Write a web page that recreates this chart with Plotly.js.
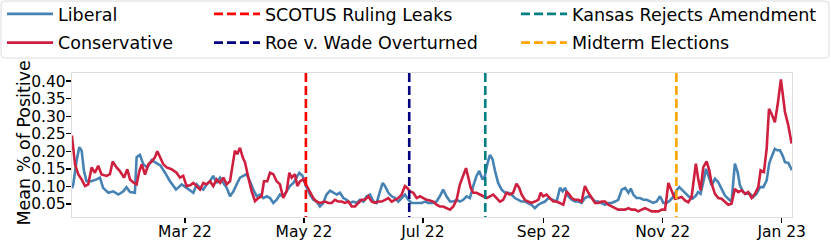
<!DOCTYPE html>
<html>
<head>
<meta charset="utf-8">
<script src="https://cdn.plot.ly/plotly-3.0.1.min.js"></script>
<style>html,body{margin:0;padding:0;background:#fff;}</style>
</head>
<body>
<div id="chart" style="width:831px;height:240px;"></div>
<script>
// x values are days since 2022-01-01
const liberalDay = [1.0,1.7,3.4,4.8,6.0,7.2,8.5,11.0,13.7,15.4,17.0,19.7,22.2,24.8,27.4,29.0,30.8,33.3,34.2,35.9,37.6,39.7,41.9,44.1,46.5,49.2,51.3,54.4,57.3,59.8,61.5,63.3,65.0,66.7,68.4,70.1,71.8,73.5,75.2,77.0,78.7,80.4,82.1,83.8,85.5,87.2,88.9,90.6,92.3,94.0,95.8,97.5,99.2,100.9,102.6,104.3,106.0,107.7,109.4,111.1,112.8,114.6,116.3,117.6,119.3,121.0,123.1,124.8,126.5,128.2,129.9,131.6,133.4,135.1,136.8,138.5,140.2,141.9,143.6,145.3,147.0,148.7,150.5,152.2,153.9,155.6,157.3,159.0,160.4,161.6,163.3,165.0,166.7,168.4,170.1,171.8,173.5,175.2,177.8,180.4,182.1,183.8,186.3,188.0,189.7,191.4,193.1,194.9,196.6,198.3,200.0,201.7,203.4,205.1,206.8,208.5,209.9,211.6,212.8,214.0,215.4,216.7,218.0,219.6,221.4,223.1,224.8,226.5,228.2,229.9,231.6,233.3,235.0,236.7,238.4,240.2,241.9,243.6,245.3,247.2,249.6,251.3,252.7,253.9,255.6,257.3,259.0,260.7,262.4,264.1,265.9,267.6,269.3,271.0,272.7,274.4,276.1,277.8,279.5,281.2,283.0,284.7,286.4,287.6,288.9,290.6,292.4,294.1,295.8,297.5,299.2,300.9,302.6,304.3,306.0,307.7,309.4,311.1,312.5,314.2,315.9,317.6,319.3,321.0,322.2,323.4,324.8,326.2,327.4,329.1,330.8,332.5,334.2,335.9,337.6,339.3,341.0,342.4,343.6,345.3,347.0,348.7,350.4,352.1,353.9,355.6,357.3,358.6,359.8,361.5,362.7,364.1,365.5,366.7,368.4,370.3];
const liberalValue = [0.095,0.106,0.173,0.212,0.202,0.144,0.115,0.115,0.120,0.125,0.096,0.082,0.086,0.077,0.086,0.098,0.084,0.082,0.183,0.190,0.163,0.154,0.175,0.168,0.159,0.135,0.115,0.091,0.106,0.096,0.090,0.082,0.106,0.096,0.091,0.106,0.115,0.130,0.110,0.125,0.110,0.096,0.072,0.086,0.106,0.125,0.130,0.135,0.115,0.091,0.072,0.077,0.067,0.072,0.067,0.053,0.062,0.077,0.072,0.086,0.101,0.110,0.125,0.139,0.130,0.101,0.077,0.062,0.057,0.043,0.053,0.077,0.088,0.082,0.077,0.082,0.067,0.062,0.053,0.057,0.053,0.062,0.057,0.072,0.077,0.057,0.053,0.086,0.110,0.101,0.082,0.072,0.067,0.057,0.067,0.077,0.062,0.053,0.053,0.053,0.057,0.053,0.053,0.057,0.072,0.091,0.072,0.057,0.057,0.062,0.057,0.062,0.072,0.067,0.101,0.130,0.144,0.120,0.130,0.163,0.190,0.178,0.144,0.110,0.091,0.082,0.082,0.077,0.067,0.062,0.057,0.057,0.053,0.048,0.038,0.048,0.053,0.057,0.067,0.062,0.057,0.096,0.086,0.096,0.072,0.062,0.057,0.057,0.053,0.067,0.072,0.067,0.057,0.057,0.053,0.048,0.053,0.053,0.057,0.062,0.091,0.096,0.082,0.094,0.077,0.067,0.067,0.062,0.062,0.057,0.053,0.057,0.072,0.053,0.053,0.060,0.070,0.089,0.098,0.089,0.079,0.070,0.065,0.074,0.084,0.079,0.112,0.150,0.131,0.103,0.122,0.112,0.093,0.074,0.065,0.056,0.165,0.141,0.103,0.084,0.079,0.079,0.070,0.079,0.098,0.098,0.117,0.165,0.184,0.207,0.203,0.203,0.188,0.169,0.167,0.146];

const conservativeDay = [1.0,2.6,4.3,6.0,7.7,9.4,11.1,12.8,14.5,16.2,18.8,20.5,21.9,23.9,25.6,27.7,29.4,30.8,32.8,34.2,35.6,36.8,38.5,40.2,41.9,43.6,44.8,46.2,47.9,49.6,52.1,54.7,56.4,58.1,59.8,61.6,63.3,65.0,66.7,68.4,70.1,71.8,73.5,75.2,77.0,78.7,80.4,82.1,83.4,84.6,85.8,87.2,88.6,89.8,91.5,93.2,94.9,96.6,98.3,99.5,101.2,102.6,104.3,106.0,107.7,109.4,111.1,112.5,113.7,115.4,116.6,118.0,119.7,121.4,123.1,124.8,126.5,128.2,130.8,132.5,134.2,135.9,137.6,139.3,141.0,142.8,144.5,146.2,147.9,149.6,151.3,153.0,154.7,156.4,158.1,159.9,161.6,163.3,165.0,166.7,168.4,170.1,171.8,173.0,174.4,176.1,177.8,179.5,181.2,182.9,184.6,186.3,188.0,189.7,191.4,193.1,194.9,196.6,198.3,200.0,201.7,203.1,204.3,205.5,206.8,208.5,210.2,211.9,213.7,215.4,217.1,218.8,220.5,222.2,223.9,225.6,227.3,229.0,230.4,231.6,233.3,235.0,236.7,238.4,240.2,241.4,242.7,244.4,246.1,247.9,249.6,251.3,253.0,253.9,254.7,256.1,257.3,259.0,260.7,262.4,264.1,265.9,267.6,269.3,271.0,272.7,274.4,276.1,277.8,279.5,281.2,283.0,284.7,286.4,288.1,289.8,291.5,293.2,294.9,296.6,298.3,300.0,301.8,303.5,305.2,306.9,309.1,310.3,312.0,313.7,315.4,317.1,318.8,320.0,321.0,322.2,323.4,324.8,326.5,327.9,329.1,330.8,332.5,334.2,335.9,337.6,339.3,341.0,342.7,344.5,346.2,347.9,349.6,351.3,353.0,354.2,355.9,357.3,358.5,359.8,361.5,362.9,364.6,365.8,366.7,368.4,370.1];
const conservativeValue = [0.245,0.163,0.134,0.120,0.101,0.106,0.154,0.139,0.159,0.134,0.130,0.135,0.171,0.154,0.144,0.125,0.149,0.120,0.110,0.106,0.144,0.163,0.134,0.163,0.171,0.183,0.200,0.183,0.163,0.154,0.149,0.139,0.125,0.130,0.101,0.103,0.110,0.101,0.091,0.110,0.106,0.115,0.101,0.120,0.110,0.125,0.106,0.115,0.168,0.202,0.192,0.210,0.183,0.168,0.125,0.086,0.058,0.067,0.072,0.115,0.115,0.139,0.135,0.115,0.106,0.067,0.086,0.139,0.125,0.135,0.101,0.115,0.120,0.101,0.082,0.067,0.057,0.053,0.057,0.053,0.053,0.062,0.057,0.057,0.053,0.057,0.043,0.043,0.053,0.062,0.062,0.072,0.057,0.053,0.057,0.057,0.062,0.067,0.057,0.062,0.067,0.077,0.101,0.096,0.086,0.082,0.067,0.072,0.067,0.062,0.060,0.057,0.048,0.043,0.043,0.038,0.034,0.043,0.062,0.106,0.135,0.152,0.125,0.096,0.082,0.082,0.077,0.072,0.067,0.072,0.077,0.067,0.057,0.062,0.082,0.077,0.082,0.108,0.096,0.077,0.062,0.057,0.053,0.057,0.062,0.082,0.072,0.077,0.067,0.057,0.057,0.053,0.048,0.067,0.086,0.077,0.067,0.062,0.062,0.057,0.101,0.082,0.067,0.053,0.053,0.057,0.057,0.048,0.043,0.038,0.034,0.034,0.034,0.038,0.034,0.034,0.029,0.034,0.038,0.034,0.029,0.029,0.029,0.034,0.034,0.110,0.084,0.065,0.067,0.070,0.060,0.055,0.070,0.122,0.165,0.122,0.089,0.155,0.171,0.146,0.108,0.079,0.067,0.065,0.055,0.048,0.051,0.093,0.084,0.089,0.079,0.084,0.067,0.079,0.098,0.146,0.141,0.207,0.321,0.307,0.283,0.331,0.405,0.350,0.312,0.274,0.222];

const eventNames = ['SCOTUS Ruling Leaks','Roe v. Wade Overturned','Kansas Rejects Amendment','Midterm Elections'];
const eventDates = ['2022-05-02','2022-06-24','2022-08-02','2022-11-08'];
const eventColors = ['#ff0000','#000080','#008080','#ffa500'];

const tickDates = ['2022-03-01','2022-05-01','2022-07-01','2022-09-01','2022-11-01','2023-01-01'];
const tickLabels = ['Mar 22','May 22','Jul 22','Sep 22','Nov 22','Jan 23'];
const yTicks = [0.05,0.10,0.15,0.20,0.25,0.30,0.35,0.40];
const yTickLabels = ['0.05','0.10','0.15','0.20','0.25','0.30','0.35','0.40'];
const yTitle = 'Mean % of Positive';

const START = Date.UTC(2022,0,1);
function dayToDate(d){
  return new Date(START + d*86400000).toISOString().slice(0,19).replace('T',' ');
}

const FONT = 'DejaVu Sans, sans-serif';
const blue = '#4682b4', red = '#cf1f3f';
const dash = '9px,4px';

const traces = [
  {type:'scatter', mode:'lines', name:'Liberal', x: liberalDay.map(dayToDate), y: liberalValue,
   line:{color:blue, width:2.6}, legend:'legend', legendgroup:'a'},
  {type:'scatter', mode:'lines', name:'Conservative', x: conservativeDay.map(dayToDate), y: conservativeValue,
   line:{color:red, width:2.6}, legend:'legend', legendgroup:'b'}
];
const legendIds = ['legend2','legend2','legend3','legend3'];
eventNames.forEach((n,i)=>{
  traces.push({type:'scatter', mode:'lines', name:n, x:[null], y:[null],
    line:{color:eventColors[i], width:2.6, dash:dash}, legend:legendIds[i], legendgroup:'e'+i});
});

const shapes = eventDates.map((d,i)=>({
  type:'line', xref:'x', yref:'paper', x0:d, x1:d, y0:1, y1:0,
  line:{color:eventColors[i], width:2.6, dash:dash}, layer:'above'
}));

// legend frame (rounded box), paper coords
const L=72, W=720, T=73, H=144;
const px = v => (v-L)/W, py = v => (T+H-v)/H;
const bx0=1, bx1=829, by0=1, by1=58, r=4;
shapes.push({type:'path', xref:'paper', yref:'paper', layer:'below',
  path:`M${px(bx0+r)},${py(by0)} L${px(bx1-r)},${py(by0)} Q${px(bx1)},${py(by0)} ${px(bx1)},${py(by0+r)} L${px(bx1)},${py(by1-r)} Q${px(bx1)},${py(by1)} ${px(bx1-r)},${py(by1)} L${px(bx0+r)},${py(by1)} Q${px(bx0)},${py(by1)} ${px(bx0)},${py(by1-r)} L${px(bx0)},${py(by0+r)} Q${px(bx0)},${py(by0)} ${px(bx0+r)},${py(by0)} Z`,
  line:{color:'#dcdcdc', width:1}, fillcolor:'rgba(255,255,255,0.8)'});

const legBase = {orientation:'v', bgcolor:'rgba(0,0,0,0)', borderwidth:0,
  font:{family:FONT, size:17.5, color:'#000'}, xanchor:'left', yanchor:'top', y: py(-4), itemwidth:46, tracegroupgap:3};

const axisCommon = {showgrid:false, zeroline:false, showline:true, linecolor:'#dddddd', linewidth:1.2, mirror:true,
  ticks:'outside', ticklen:5, tickwidth:1.3, tickcolor:'#000',
  tickfont:{family:FONT, size:15.5, color:'#000'}};

const layout = {
  width:831, height:240,
  margin:{l:L, r:831-L-W, t:T, b:240-T-H, pad:0, autoexpand:false},
  paper_bgcolor:'#fff', plot_bgcolor:'#fff',
  font:{family:FONT, color:'#000'},
  xaxis: Object.assign({}, axisCommon, {type:'date', range:[dayToDate(1.05), dayToDate(370.3)],
    tickvals: tickDates, ticktext: tickLabels, ticklabelstandoff:-5}),
  yaxis: Object.assign({}, axisCommon, {range:[0.013, 0.423], tickvals:yTicks, ticktext:yTickLabels,
    ticklabelstandoff:-3}),
  annotations:[{text:yTitle, xref:'paper', yref:'paper', x:px(23.5), y:py(143), xanchor:'center', yanchor:'middle',
    textangle:-90, showarrow:false, font:{family:FONT, size:17.5, color:'#000'}}],
  legend: Object.assign({}, legBase, {x: px(2)}),
  legend2: Object.assign({}, legBase, {x: px(209)}),
  legend3: Object.assign({}, legBase, {x: px(516)}),
  shapes: shapes,
  showlegend:true
};

Plotly.newPlot('chart', traces, layout, {staticPlot:true, displayModeBar:false});
</script>
</body>
</html>
